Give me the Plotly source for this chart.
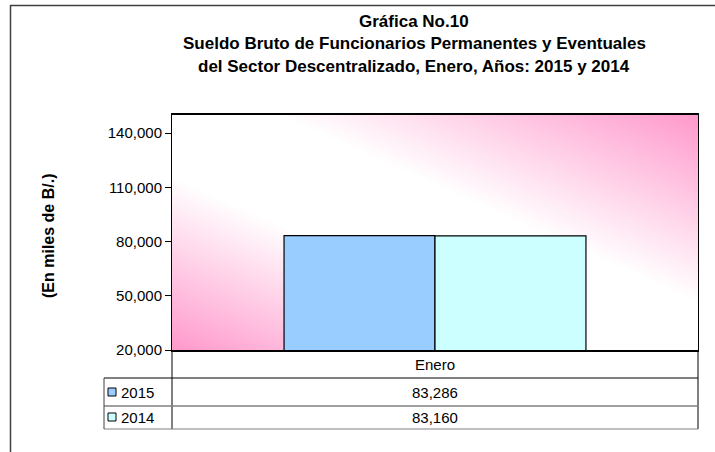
import base64
import plotly.graph_objects as go

# ---- data ----
categories = ["Enero"]
years = ["2015", "2014"]
values_2015 = [83286]
values_2014 = [83160]
bar_colors = ["#99CCFF", "#CCFFFF"]
y_ticks = [20000, 50000, 80000, 110000, 140000]
title_lines = [
    "Gráfica No.10",
    "Sueldo Bruto de Funcionarios Permanentes y Eventuales",
    "del Sector Descentralizado, Enero, Años: 2015 y 2014",
]
y_title = "(En miles de B/.)"

# ---- layout geometry (screen pixels) ----
FW, FH = 715, 452
L, R, T, B = 172, 698, 115, 350
W, H = R - L, B - T


def px(xp):
    return (xp - L) / W


def py(yp):
    return (B - yp) / H


FONT = "Liberation Sans, Arial, sans-serif"

fig = go.Figure()
series = [values_2015, values_2014]
for name, vals, col in zip(years, series, bar_colors):
    fig.add_trace(go.Bar(
        x=categories, y=vals, name=name,
        marker=dict(color=col, line=dict(color="#000000", width=1.2)),
    ))

# gradient background (svg)
svg = (
    "<svg xmlns='http://www.w3.org/2000/svg' width='526' height='235' "
    "viewBox='0 0 100 100' preserveAspectRatio='none'>"
    "<defs><linearGradient id='g' x1='0' y1='1' x2='1' y2='0'>"
    "<stop offset='0' stop-color='#FF99CC'/>"
    "<stop offset='0.37' stop-color='#FFFFFF'/>"
    "<stop offset='0.6' stop-color='#FFFFFF'/>"
    "<stop offset='1' stop-color='#FF99CC'/>"
    "</linearGradient></defs>"
    "<rect x='0' y='0' width='100' height='100' fill='url(#g)'/></svg>"
)
src = "data:image/svg+xml;base64," + base64.b64encode(svg.encode()).decode()

shapes = []


def hline(y, x0, x1, color="#000000", w=1):
    shapes.append(dict(type="line", xref="paper", yref="paper",
                       x0=px(x0), x1=px(x1), y0=py(y), y1=py(y),
                       line=dict(color=color, width=w)))


def vline(x, y0, y1, color="#000000", w=1):
    shapes.append(dict(type="line", xref="paper", yref="paper",
                       x0=px(x), x1=px(x), y0=py(y0), y1=py(y1),
                       line=dict(color=color, width=w)))


# outer chart frame (top and left edges visible in the window)
hline(5.5, 10, 715, "#404040", 1.5)
vline(10.5, 5, 452, "#404040", 1.5)

# data table
vline(L, B, 429)
vline(R, B, 429)
hline(378, 104, R)
hline(406, 104, R, "#808080", 1.5)
hline(429, 104, R, "#808080", 1.2)
vline(104, 378, 429, "#404040", 1)

annotations = []
row_y = [392, 417]
for yr, col, ry in zip(years, bar_colors, row_y):
    shapes.append(dict(type="rect", xref="paper", yref="paper",
                       x0=px(108), x1=px(116), y0=py(ry - 4), y1=py(ry + 4),
                       fillcolor=col, line=dict(color="#000000", width=1)))
    annotations.append(dict(text=yr, xref="paper", yref="paper", x=px(119), y=py(ry),
                            xanchor="left", yanchor="middle", showarrow=False,
                            font=dict(family=FONT, size=15, color="#000000")))

annotations.append(dict(text=categories[0], xref="x", yref="paper", x=categories[0], y=py(364),
                        xanchor="center", yanchor="middle", showarrow=False,
                        font=dict(family=FONT, size=15, color="#000000")))
for vals, ry in zip(series, row_y):
    annotations.append(dict(text=f"{vals[0]:,}", xref="x", yref="paper", x=categories[0], y=py(ry),
                            xanchor="center", yanchor="middle", showarrow=False,
                            font=dict(family=FONT, size=15, color="#000000")))

# titles
for line, yy in zip(title_lines, [21, 44, 67]):
    annotations.append(dict(text=f"<b>{line}</b>", xref="paper", yref="paper", x=px(414), y=py(yy),
                            xanchor="center", yanchor="middle", showarrow=False,
                            font=dict(family=FONT, size=17, color="#000000")))

annotations.append(dict(text=f"<b>{y_title}</b>", xref="paper", yref="paper", x=px(48), y=py(236),
                        xanchor="center", yanchor="middle", showarrow=False, textangle=-90,
                        font=dict(family=FONT, size=16, color="#000000")))

fig.update_layout(
    width=FW, height=FH,
    margin=dict(l=L, r=FW - R, t=T, b=FH - B, pad=0),
    paper_bgcolor="#FFFFFF", plot_bgcolor="rgba(0,0,0,0)",
    barmode="group", bargap=0.426, bargroupgap=0,
    showlegend=False,
    images=[dict(source=src, xref="paper", yref="paper", x=0, y=1, sizex=1, sizey=1,
                 xanchor="left", yanchor="top", sizing="stretch", layer="below")],
    shapes=shapes, annotations=annotations,
    xaxis=dict(showticklabels=False, ticks="", showline=True, linecolor="#000000",
               linewidth=1.8, mirror=True, showgrid=False, zeroline=False, fixedrange=True),
    yaxis=dict(range=[20000, 150000], tickvals=y_ticks, tickformat=",", ticks="outside",
               ticklen=6, tickcolor="#000000", showline=True, linecolor="#000000",
               linewidth=1, mirror=True, showgrid=False, zeroline=False,
               tickfont=dict(family=FONT, size=15, color="#000000")),
)

fig.write_html(
    "out.html",
    config={"displayModeBar": False},
    post_script="document.body.style.margin='0';document.body.style.overflow='hidden';",
)
